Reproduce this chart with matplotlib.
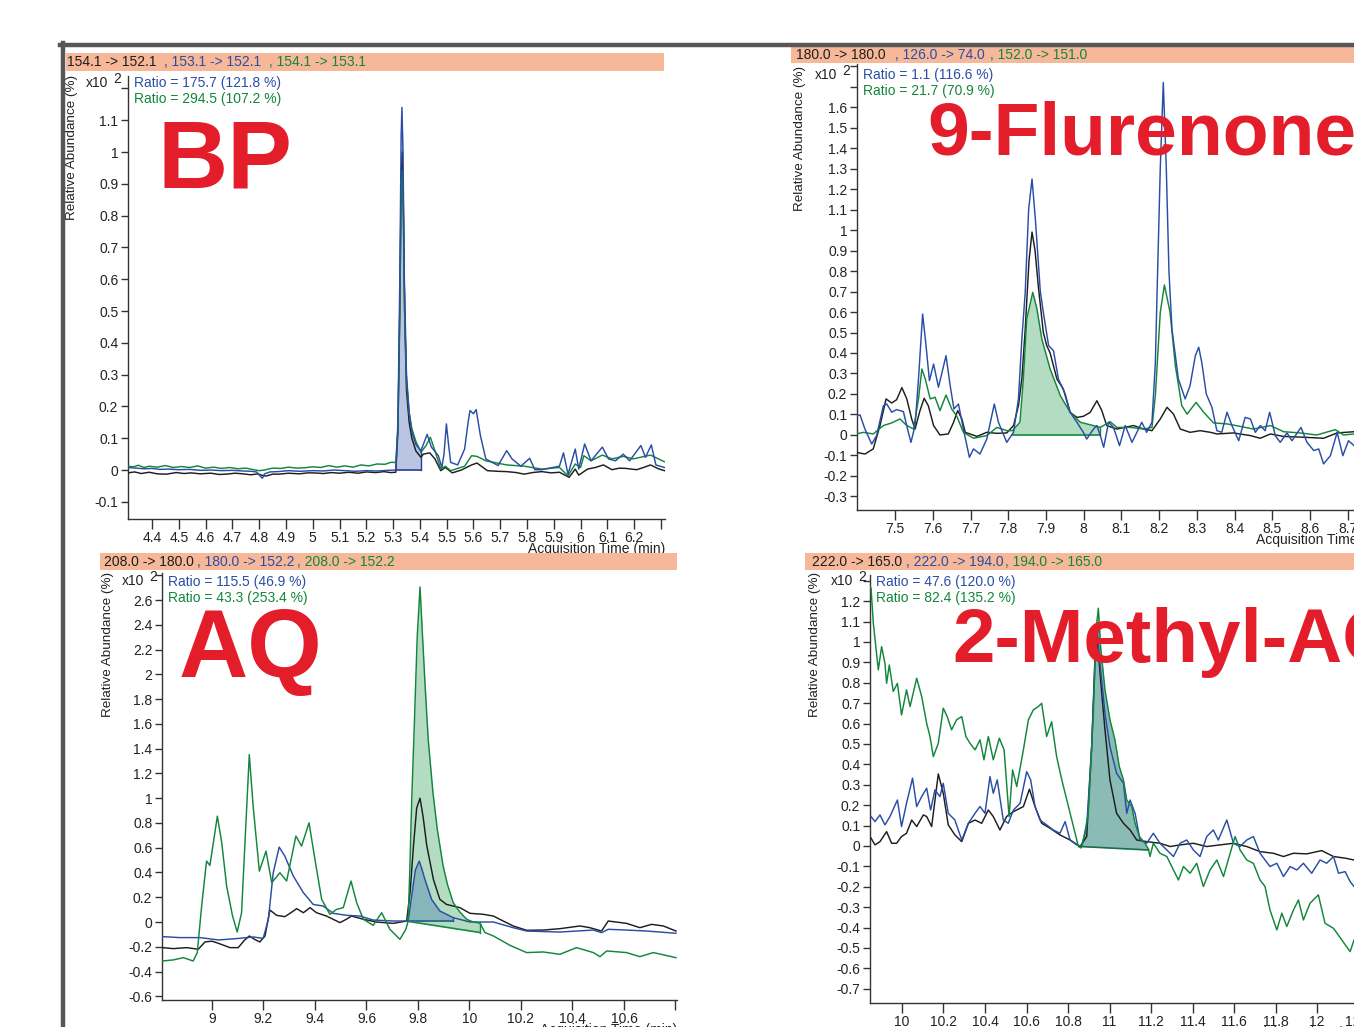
import matplotlib
matplotlib.use('Agg')
import matplotlib.pyplot as plt
import numpy as np
from matplotlib.patches import Rectangle
from matplotlib.lines import Line2D

plt.rcParams['font.family'] = ['Liberation Sans', 'DejaVu Sans']
plt.rcParams['mathtext.default'] = 'regular'

# ---------------- DATA ----------------
# Panel 1 : BP
p1_header = ["154.1 -> 152.1", ", 153.1 -> 152.1", ", 154.1 -> 153.1"]
p1_ratios = ["Ratio = 175.7 (121.8 %)", "Ratio = 294.5 (107.2 %)"]
p1_black = [(4.310, -0.009), (4.335, -0.006), (4.36, -0.011), (4.389, -0.007), (4.42, -0.012), (4.454, -0.013),
            (4.49, -0.008), (4.52, -0.011), (4.546, -0.009), (4.58, -0.012), (4.62, -0.010), (4.65, -0.014),
            (4.677, -0.013), (4.71, -0.010), (4.74, -0.012), (4.77, -0.015), (4.795, -0.012), (4.808, -0.016),
            (4.825, -0.019), (4.85, -0.013), (4.873, -0.013), (4.91, -0.010), (4.95, -0.012), (4.98, -0.009),
            (5.004, -0.009), (5.04, -0.011), (5.07, -0.008), (5.10, -0.010), (5.135, -0.007), (5.17, -0.010),
            (5.20, -0.006), (5.235, -0.008), (5.266, -0.005), (5.29, -0.008), (5.31, -0.007), (5.318, 0.12),
            (5.325, 0.5), (5.330, 0.9), (5.334, 1.0), (5.338, 0.85), (5.343, 0.5), (5.35, 0.25), (5.36, 0.15),
            (5.37, 0.10), (5.385, 0.06), (5.404, 0.04), (5.413, 0.05), (5.437, 0.054), (5.456, 0.035),
            (5.478, -0.002), (5.495, 0.008), (5.521, -0.009), (5.555, 0.0), (5.593, 0.016), (5.613, 0.022),
            (5.652, -0.002), (5.69, -0.004), (5.724, -0.005), (5.76, -0.008), (5.790, -0.013), (5.82, -0.008),
            (5.855, -0.005), (5.89, -0.009), (5.921, -0.007), (5.957, -0.023), (5.98, 0.003), (5.993, -0.016),
            (6.026, 0.003), (6.055, 0.008), (6.085, 0.016), (6.117, 0.001), (6.145, 0.006), (6.170, 0.005),
            (6.209, 0.001), (6.235, 0.008), (6.261, 0.016), (6.29, 0.004), (6.313, -0.002)]
p1_blue = [(4.310, 0.008), (4.34, 0.006), (4.37, 0.004), (4.40, 0.005), (4.43, 0.002), (4.46, 0.003),
           (4.50, 0.001), (4.54, 0.002), (4.58, -0.001), (4.62, 0.0), (4.66, -0.002), (4.70, -0.001),
           (4.74, -0.003), (4.77, -0.004), (4.79, -0.006), (4.805, -0.02), (4.812, -0.026), (4.82, -0.012),
           (4.84, -0.006), (4.87, -0.005), (4.91, -0.002), (4.95, -0.004), (5.0, -0.002), (5.04, -0.003),
           (5.08, 0.0), (5.12, -0.002), (5.16, -0.004), (5.20, -0.002), (5.24, -0.003), (5.28, -0.001),
           (5.31, 0.0), (5.318, 0.15), (5.325, 0.6), (5.330, 1.05), (5.333, 1.14), (5.337, 1.0), (5.342, 0.6),
           (5.35, 0.3), (5.36, 0.18), (5.37, 0.12), (5.385, 0.08), (5.404, 0.061), (5.427, 0.112),
           (5.443, 0.072), (5.469, 0.045), (5.482, 0.008), (5.490, 0.05), (5.499, 0.145), (5.507, 0.08),
           (5.515, 0.024), (5.541, 0.016), (5.567, 0.066), (5.58, 0.15), (5.587, 0.187), (5.600, 0.177),
           (5.610, 0.19), (5.626, 0.108), (5.646, 0.035), (5.692, 0.014), (5.724, 0.061), (5.744, 0.035),
           (5.777, 0.012), (5.810, 0.037), (5.829, 0.001), (5.855, 0.001), (5.921, 0.012), (5.936, 0.054),
           (5.953, -0.013), (5.98, 0.066), (5.993, 0.003), (6.015, 0.082), (6.039, 0.029), (6.081, 0.072),
           (6.104, 0.035), (6.130, 0.029), (6.159, 0.05), (6.183, 0.029), (6.225, 0.077), (6.242, 0.04),
           (6.264, 0.079), (6.281, 0.016), (6.313, 0.008)]
p1_green = [(4.310, 0.012), (4.33, 0.010), (4.35, 0.015), (4.37, 0.008), (4.39, 0.012), (4.42, 0.009),
            (4.45, 0.014), (4.48, 0.008), (4.51, 0.011), (4.54, 0.008), (4.57, 0.013), (4.60, 0.006),
            (4.63, 0.009), (4.66, 0.005), (4.69, 0.008), (4.72, 0.004), (4.75, 0.006), (4.78, 0.001),
            (4.80, -0.002), (4.82, 0.0), (4.85, 0.006), (4.88, 0.005), (4.91, 0.009), (4.94, 0.006),
            (4.97, 0.007), (5.0, 0.010), (5.03, 0.008), (5.06, 0.014), (5.09, 0.009), (5.12, 0.013),
            (5.15, 0.009), (5.18, 0.016), (5.21, 0.013), (5.24, 0.019), (5.27, 0.018), (5.29, 0.024),
            (5.31, 0.024), (5.318, 0.13), (5.325, 0.5), (5.330, 0.85), (5.334, 0.94), (5.338, 0.82),
            (5.343, 0.5), (5.35, 0.28), (5.36, 0.18), (5.37, 0.13), (5.385, 0.09), (5.404, 0.056),
            (5.423, 0.077), (5.439, 0.103), (5.456, 0.061), (5.478, 0.003), (5.495, 0.012), (5.515, -0.002),
            (5.567, 0.012), (5.593, 0.045), (5.613, 0.043), (5.646, 0.029), (5.724, 0.016), (5.790, 0.012),
            (5.855, 0.003), (5.921, 0.008), (5.953, -0.018), (5.98, 0.019), (6.0, 0.008), (6.012, 0.045),
            (6.039, 0.029), (6.081, 0.047), (6.117, 0.035), (6.159, 0.043), (6.196, 0.035), (6.261, 0.047),
            (6.313, 0.026)]

# Panel 2 : 9-Flurenone
p2_header = ["180.0 -> 180.0", ", 126.0 -> 74.0", ", 152.0 -> 151.0"]
p2_ratios = ["Ratio = 1.1 (116.6 %)", "Ratio = 21.7 (70.9 %)"]
p2_black = [(7.398, -0.085), (7.420, -0.093), (7.442, -0.068), (7.460, 0.046), (7.476, 0.176), (7.491, 0.156),
            (7.504, 0.172), (7.518, 0.231), (7.531, 0.176), (7.544, 0.078), (7.553, 0.029), (7.566, 0.119),
            (7.577, 0.179), (7.588, 0.143), (7.602, 0.046), (7.619, 0.0), (7.641, 0.005), (7.655, 0.062),
            (7.666, 0.119), (7.677, 0.078), (7.686, 0.013), (7.717, -0.007), (7.743, 0.013), (7.770, 0.008),
            (7.796, 0.01), (7.814, 0.046), (7.827, 0.143), (7.836, 0.273), (7.845, 0.517), (7.855, 0.85),
            (7.863, 0.99), (7.871, 0.9), (7.880, 0.72), (7.893, 0.5), (7.902, 0.436), (7.911, 0.4),
            (7.929, 0.273), (7.946, 0.224), (7.964, 0.11), (7.982, 0.086), (7.999, 0.091), (8.017, 0.11),
            (8.035, 0.167), (8.048, 0.119), (8.061, 0.046), (8.088, 0.029), (8.132, 0.046), (8.159, 0.029),
            (8.181, 0.021), (8.203, 0.078), (8.221, 0.135), (8.238, 0.102), (8.256, 0.029), (8.282, 0.013),
            (8.309, 0.021), (8.336, 0.013), (8.353, 0.005), (8.397, 0.01), (8.442, -0.003), (8.468, -0.016),
            (8.495, 0.005), (8.530, -0.007), (8.583, -0.011), (8.636, -0.016), (8.672, 0.01), (8.717, 0.016)]
p2_blue = [(7.398, 0.094), (7.407, 0.098), (7.420, 0.029), (7.438, -0.044), (7.451, -0.003), (7.469, 0.143),
           (7.478, 0.151), (7.491, 0.111), (7.504, 0.124), (7.522, 0.114), (7.533, 0.029), (7.542, -0.036),
           (7.553, 0.046), (7.562, 0.273), (7.573, 0.59), (7.582, 0.436), (7.591, 0.265), (7.602, 0.346),
           (7.615, 0.233), (7.635, 0.387), (7.646, 0.241), (7.656, 0.127), (7.668, 0.151), (7.681, 0.029),
           (7.697, -0.109), (7.708, -0.068), (7.725, -0.093), (7.743, -0.02), (7.763, 0.151), (7.774, 0.062),
           (7.796, -0.036), (7.814, 0.013), (7.827, 0.176), (7.836, 0.468), (7.845, 0.696), (7.854, 1.1),
           (7.863, 1.249), (7.872, 1.05), (7.885, 0.7), (7.893, 0.598), (7.907, 0.436), (7.920, 0.411),
           (7.933, 0.273), (7.951, 0.2), (7.964, 0.111), (7.982, 0.062), (7.999, 0.013), (8.008, -0.02),
           (8.026, 0.029), (8.035, 0.046), (8.044, -0.003), (8.053, -0.06), (8.066, 0.062), (8.079, 0.037),
           (8.095, -0.052), (8.110, 0.046), (8.128, -0.036), (8.141, 0.013), (8.154, 0.062), (8.167, 0.013),
           (8.181, 0.062), (8.190, 0.354), (8.196, 0.8), (8.203, 1.3), (8.211, 1.72), (8.219, 1.3),
           (8.226, 0.8), (8.234, 0.517), (8.251, 0.273), (8.269, 0.176), (8.282, 0.241), (8.296, 0.387),
           (8.305, 0.428), (8.313, 0.354), (8.325, 0.2), (8.340, 0.135), (8.353, 0.021), (8.366, 0.013),
           (8.380, 0.111), (8.393, 0.046), (8.411, -0.028), (8.428, 0.086), (8.442, 0.078), (8.455, 0.013),
           (8.468, 0.046), (8.481, 0.021), (8.493, 0.111), (8.508, -0.003), (8.521, -0.036), (8.539, 0.01),
           (8.552, -0.028), (8.576, 0.037), (8.592, -0.036), (8.610, -0.076), (8.623, -0.068), (8.636, -0.141),
           (8.654, -0.101), (8.672, 0.013), (8.687, -0.101), (8.702, -0.028), (8.717, -0.052)]
p2_green = [(7.398, 0.005), (7.416, 0.013), (7.442, 0.005), (7.469, 0.046), (7.491, 0.059), (7.513, 0.078),
            (7.531, 0.046), (7.549, 0.029), (7.562, 0.176), (7.571, 0.322), (7.580, 0.273), (7.593, 0.176),
            (7.606, 0.184), (7.619, 0.119), (7.635, 0.195), (7.650, 0.127), (7.663, 0.094), (7.681, 0.013),
            (7.708, -0.016), (7.743, -0.003), (7.770, 0.037), (7.796, 0.021), (7.811, 0.021), (7.831, 0.062),
            (7.840, 0.273), (7.849, 0.566), (7.865, 0.696), (7.876, 0.615), (7.889, 0.468), (7.911, 0.322),
            (7.938, 0.192), (7.964, 0.111), (7.991, 0.062), (8.017, 0.05), (8.044, 0.037), (8.070, 0.065),
            (8.088, 0.037), (8.123, 0.037), (8.159, 0.029), (8.181, 0.037), (8.190, 0.192), (8.203, 0.598),
            (8.214, 0.732), (8.229, 0.598), (8.243, 0.338), (8.260, 0.143), (8.274, 0.102), (8.298, 0.159),
            (8.318, 0.111), (8.344, 0.059), (8.380, 0.054), (8.415, 0.042), (8.450, 0.029), (8.495, 0.046),
            (8.530, 0.016), (8.574, 0.01), (8.618, 0.0), (8.667, 0.026), (8.689, 0.0), (8.717, 0.005)]

# Panel 3 : AQ
p3_header = ["208.0 -> 180.0", ", 180.0 -> 152.2", ", 208.0 -> 152.2"]
p3_ratios = ["Ratio = 115.5 (46.9 %)", "Ratio = 43.3 (253.4 %)"]
p3_black = [(8.808, -0.207), (8.850, -0.215), (8.902, -0.207), (8.947, -0.22), (8.973, -0.161), (9.0, -0.155),
            (9.025, -0.172), (9.070, -0.207), (9.102, -0.207), (9.125, -0.15), (9.145, -0.113), (9.165, -0.14),
            (9.186, -0.161), (9.206, -0.113), (9.225, 0.097), (9.251, 0.054), (9.283, 0.043), (9.310, 0.08),
            (9.329, 0.108), (9.355, 0.075), (9.381, 0.116), (9.406, 0.075), (9.445, 0.048), (9.497, -0.005),
            (9.520, 0.02), (9.542, 0.048), (9.588, 0.022), (9.639, 0.0), (9.704, -0.011), (9.756, 0.008),
            (9.770, 0.25), (9.782, 0.6), (9.795, 0.92), (9.808, 1.0), (9.820, 0.85), (9.834, 0.62),
            (9.860, 0.344), (9.885, 0.183), (9.911, 0.142), (9.937, 0.129), (9.963, 0.116), (10.002, 0.07),
            (10.054, 0.062), (10.093, 0.048), (10.131, 0.008), (10.170, -0.032), (10.222, -0.067),
            (10.287, -0.065), (10.351, -0.054), (10.429, -0.032), (10.468, -0.046), (10.513, -0.073),
            (10.539, 0.008), (10.610, -0.011), (10.662, -0.046), (10.707, -0.019), (10.753, -0.032),
            (10.802, -0.073)]
p3_blue = [(8.808, -0.118), (8.876, -0.126), (8.953, -0.126), (9.025, -0.145), (9.096, -0.134), (9.160, -0.121),
           (9.199, -0.132), (9.219, 0.022), (9.238, 0.398), (9.261, 0.605), (9.283, 0.532), (9.316, 0.371),
           (9.355, 0.237), (9.393, 0.142), (9.432, 0.129), (9.471, 0.07), (9.523, 0.054), (9.575, 0.048),
           (9.626, 0.016), (9.704, 0.008), (9.762, 0.008), (9.775, 0.2), (9.790, 0.42), (9.805, 0.492),
           (9.815, 0.43), (9.827, 0.344), (9.853, 0.183), (9.885, 0.089), (9.937, 0.035), (10.002, 0.0),
           (10.093, 0.0), (10.170, -0.046), (10.222, -0.073), (10.351, -0.081), (10.481, -0.065),
           (10.513, -0.086), (10.539, -0.059), (10.610, -0.065), (10.688, -0.073), (10.802, -0.091)]
p3_green = [(8.808, -0.315), (8.850, -0.306), (8.889, -0.288), (8.927, -0.315), (8.943, -0.247), (8.960, 0.129),
            (8.979, 0.492), (8.992, 0.457), (9.021, 0.855), (9.038, 0.64), (9.057, 0.29), (9.080, 0.048),
            (9.098, -0.081), (9.115, 0.075), (9.132, 0.801), (9.145, 1.352), (9.160, 0.935), (9.184, 0.411),
            (9.210, 0.573), (9.232, 0.317), (9.264, 0.398), (9.290, 0.331), (9.326, 0.694), (9.348, 0.613),
            (9.377, 0.801), (9.400, 0.505), (9.426, 0.183), (9.458, 0.062), (9.484, 0.102), (9.510, 0.116),
            (9.540, 0.331), (9.562, 0.156), (9.588, 0.022), (9.626, -0.027), (9.659, 0.075), (9.691, -0.059),
            (9.730, -0.14), (9.753, -0.059), (9.762, 0.008), (9.768, 0.4), (9.776, 1.0), (9.786, 1.6),
            (9.797, 2.3), (9.808, 2.706), (9.818, 2.3), (9.828, 1.9), (9.840, 1.47), (9.858, 1.05),
            (9.875, 0.75), (9.898, 0.45), (9.915, 0.3), (9.937, 0.156), (9.963, 0.08), (9.989, 0.022),
            (10.015, 0.0), (10.041, -0.01), (10.060, -0.085), (10.093, -0.113), (10.157, -0.188),
            (10.222, -0.247), (10.287, -0.242), (10.351, -0.261), (10.416, -0.207), (10.481, -0.247),
            (10.507, -0.28), (10.533, -0.234), (10.610, -0.247), (10.662, -0.28), (10.714, -0.247),
            (10.802, -0.288)]

# Panel 4 : 2-Methyl-AQ
p4_header = ["222.0 -> 165.0", ", 222.0 -> 194.0", ", 194.0 -> 165.0"]
p4_ratios = ["Ratio = 47.6 (120.0 %)", "Ratio = 82.4 (135.2 %)"]
p4_black = [(9.851, 0.038), (9.870, 0.005), (9.894, 0.021), (9.926, 0.07), (9.950, 0.013), (9.974, 0.013),
            (9.998, 0.046), (10.022, 0.062), (10.047, 0.127), (10.071, 0.095), (10.103, 0.152), (10.119, 0.144),
            (10.143, 0.095), (10.175, 0.353), (10.199, 0.258), (10.223, 0.103), (10.255, 0.054), (10.288, 0.021),
            (10.320, 0.111), (10.352, 0.127), (10.384, 0.111), (10.416, 0.176), (10.440, 0.144), (10.472, 0.078),
            (10.504, 0.144), (10.537, 0.168), (10.585, 0.193), (10.614, 0.278), (10.641, 0.193), (10.673, 0.111),
            (10.713, 0.087), (10.761, 0.054), (10.810, 0.029), (10.858, -0.003), (10.890, 0.046), (10.914, 0.487),
            (10.930, 0.928), (10.941, 1.01), (10.957, 0.814), (10.978, 0.569), (11.002, 0.324), (11.034, 0.16),
            (11.067, 0.111), (11.099, 0.078), (11.131, 0.029), (11.179, 0.021), (11.243, 0.013), (11.292, -0.003),
            (11.340, 0.005), (11.404, 0.013), (11.468, -0.003), (11.532, 0.005), (11.597, 0.013), (11.661, -0.003),
            (11.725, -0.028), (11.789, -0.036), (11.838, -0.052), (11.886, -0.036), (11.950, -0.039),
            (12.022, -0.023), (12.079, -0.052), (12.135, -0.06), (12.178, -0.069)]
p4_blue = [(9.851, 0.144), (9.870, 0.119), (9.894, 0.152), (9.918, 0.103), (9.942, 0.144), (9.978, 0.225),
           (9.998, 0.095), (10.022, 0.209), (10.051, 0.332), (10.071, 0.193), (10.095, 0.242), (10.119, 0.283),
           (10.138, 0.176), (10.159, 0.275), (10.183, 0.242), (10.199, 0.307), (10.223, 0.16), (10.255, 0.127),
           (10.288, 0.029), (10.320, 0.111), (10.352, 0.16), (10.376, 0.193), (10.400, 0.16), (10.424, 0.34),
           (10.440, 0.258), (10.459, 0.324), (10.488, 0.127), (10.512, 0.111), (10.537, 0.176), (10.569, 0.209),
           (10.601, 0.364), (10.620, 0.324), (10.641, 0.193), (10.665, 0.127), (10.697, 0.103), (10.729, 0.078),
           (10.761, 0.062), (10.786, 0.119), (10.810, 0.029), (10.842, 0.005), (10.866, -0.003), (10.890, 0.095),
           (10.914, 0.487), (10.930, 0.895), (10.941, 1.059), (10.954, 0.895), (10.978, 0.65), (11.002, 0.487),
           (11.034, 0.356), (11.067, 0.307), (11.083, 0.16), (11.099, 0.225), (11.123, 0.16), (11.147, 0.029),
           (11.179, 0.013), (11.211, 0.062), (11.243, 0.013), (11.276, -0.02), (11.308, -0.052), (11.340, 0.013),
           (11.372, 0.029), (11.404, -0.02), (11.436, -0.052), (11.468, 0.046), (11.500, 0.078), (11.524, 0.029),
           (11.565, 0.127), (11.597, 0.013), (11.629, -0.003), (11.661, 0.029), (11.693, 0.046), (11.725, -0.036),
           (11.773, -0.101), (11.806, -0.085), (11.838, -0.15), (11.870, -0.101), (11.902, -0.118),
           (11.934, -0.085), (11.974, -0.134), (12.014, -0.069), (12.046, -0.085), (12.079, -0.052),
           (12.103, -0.134), (12.135, -0.126), (12.159, -0.175), (12.178, -0.199)]
p4_green = [(9.848, 1.27), (9.851, 1.263), (9.862, 1.092), (9.886, 0.863), (9.902, 0.977), (9.918, 0.895),
            (9.926, 0.797), (9.939, 0.887), (9.958, 0.757), (9.978, 0.797), (9.998, 0.642), (10.022, 0.765),
            (10.039, 0.683), (10.071, 0.822), (10.095, 0.732), (10.119, 0.601), (10.135, 0.536), (10.151, 0.438),
            (10.175, 0.503), (10.199, 0.675), (10.218, 0.634), (10.239, 0.569), (10.263, 0.618), (10.288, 0.634),
            (10.308, 0.536), (10.328, 0.503), (10.352, 0.471), (10.376, 0.52), (10.395, 0.422), (10.416, 0.536),
            (10.440, 0.422), (10.469, 0.528), (10.492, 0.471), (10.516, 0.144), (10.533, 0.373), (10.553, 0.291),
            (10.585, 0.471), (10.609, 0.618), (10.633, 0.667), (10.657, 0.683), (10.673, 0.699), (10.697, 0.536),
            (10.721, 0.609), (10.745, 0.438), (10.770, 0.324), (10.802, 0.193), (10.826, 0.095), (10.850, -0.003),
            (10.863, -0.01), (10.877, 0.046), (10.898, 0.16), (10.922, 0.65), (10.935, 1.059), (10.946, 1.165),
            (10.957, 0.977), (10.978, 0.765), (11.002, 0.618), (11.026, 0.52), (11.047, 0.389), (11.067, 0.324),
            (11.083, 0.225), (11.107, 0.193), (11.123, 0.111), (11.144, 0.046), (11.171, 0.013), (11.187, -0.015),
            (11.195, -0.052), (11.211, 0.013), (11.243, -0.036), (11.276, -0.052), (11.308, -0.118),
            (11.332, -0.167), (11.356, -0.101), (11.388, -0.134), (11.420, -0.085), (11.452, -0.199),
            (11.484, -0.118), (11.517, -0.069), (11.549, -0.15), (11.581, -0.036), (11.605, 0.046),
            (11.629, -0.02), (11.661, -0.069), (11.693, -0.085), (11.725, -0.167), (11.749, -0.199),
            (11.773, -0.314), (11.806, -0.412), (11.830, -0.33), (11.854, -0.395), (11.886, -0.314),
            (11.910, -0.265), (11.934, -0.363), (11.966, -0.281), (12.006, -0.24), (12.038, -0.379),
            (12.079, -0.404), (12.119, -0.461), (12.159, -0.518), (12.178, -0.461)]

big_labels = ["BP", "9-Flurenone", "AQ", "2-Methyl-AQ"]

# ---------------- STYLE ----------------
W, H = 1354, 1027
C_BLACK = '#1e1e1e'
C_BLUE = '#2a4ea6'
C_GREEN = '#12863c'
C_RED = '#e31d2a'
C_HEAD = '#f6b899'

fig = plt.figure(figsize=(W / 100, H / 100), dpi=100)
fig.patch.set_facecolor('white')


def fx(px):
    return px / W


def fy(py):
    return 1 - py / H


def fmt(v):
    s = f'{v:.1f}'
    if s.endswith('.0'):
        s = s[:-2]
    if s == '-0':
        s = '0'
    return s


def arr(pairs):
    a = np.array(pairs, dtype=float)
    return a[:, 0], a[:, 1]


def make_panel(l, r, t, b, xlim, ylim, yt, yblank, xt, xblank):
    ax = fig.add_axes([fx(l), fy(b), (r - l) / W, (b - t) / H])
    ax.set_xlim(*xlim)
    ax.set_ylim(*ylim)
    ax.set_facecolor('none')
    for s in ('top', 'right'):
        ax.spines[s].set_visible(False)
    for s in ('left', 'bottom'):
        ax.spines[s].set_color('#333333')
        ax.spines[s].set_linewidth(1.0)
    ax.set_yticks(yt)
    ax.set_yticklabels(['' if any(abs(v - q) < 1e-6 for q in yblank) else fmt(v) for v in yt])
    ax.set_xticks(xt)
    ax.set_xticklabels(['' if any(abs(v - q) < 1e-6 for q in xblank) else fmt(v) for v in xt])
    ax.tick_params(axis='y', direction='out', length=5, width=1, color='#333333',
                   labelsize=10, pad=2, labelcolor='#222222')
    ax.tick_params(axis='x', direction='out', length=7, width=1, color='#333333',
                   labelsize=10, pad=1.5, labelcolor='#222222')
    ax.annotate('Acquisition Time (min)', xy=(1, 0), xycoords='axes fraction', xytext=(0, -30),
                textcoords='offset pixels', ha='right', va='center', fontsize=10, color='#222222',
                annotation_clip=False)
    return ax


def shade(ax, t, v, x0, x1, b0, b1, face, edge, z=1):
    m = (t >= x0 - 1e-9) & (t <= x1 + 1e-9)
    xs, ys = t[m], v[m]
    base = b0 + (b1 - b0) * (xs - x0) / (x1 - x0)
    ax.fill_between(xs, ys, base, color=face, lw=0, zorder=z)
    ax.plot([x0, x1], [b0, b1], color=edge, lw=1.2, zorder=z + 0.5)
    ax.plot([x1, x1], [b1, ys[-1]], color=edge, lw=1.0, zorder=z + 0.5)


def draw_traces(ax, black, blue, green, order=('black', 'blue', 'green')):
    d = {'black': (black, C_BLACK), 'blue': (blue, C_BLUE), 'green': (green, C_GREEN)}
    for k in order:
        t, v = arr(d[k][0])
        ax.plot(t, v, color=d[k][1], lw=1.05, zorder=3, solid_joinstyle='round')


def header(x0, x1, y0, y1, parts, xs):
    fig.patches.append(Rectangle((fx(x0), fy(y1)), (x1 - x0) / W, (y1 - y0) / H,
                                 transform=fig.transFigure, facecolor=C_HEAD, edgecolor='none', zorder=5))
    for txt, px, c in zip(parts, xs, (C_BLACK, C_BLUE, C_GREEN)):
        fig.text(fx(px), fy((y0 + y1) / 2 + 0.5), txt, color=c, fontsize=10, ha='left', va='center', zorder=6)


def annot(ylab_x, ylab_top, x10_left, x10_y, ratio_x, ratio_y, ratios):
    fig.text(fx(ylab_x), fy(ylab_top), 'Relative Abundance (%)', rotation=90, ha='center', va='top',
             fontsize=9.7, color='#222222')
    fig.text(fx(x10_left), fy(x10_y), 'x10', ha='left', va='center', fontsize=10, color='#222222')
    fig.text(fx(x10_left + 27), fy(x10_y - 4), '2', ha='left', va='center', fontsize=10, color='#222222')
    fig.text(fx(ratio_x), fy(ratio_y), ratios[0], color=C_BLUE, fontsize=10, ha='left', va='center')
    fig.text(fx(ratio_x), fy(ratio_y + 16), ratios[1], color=C_GREEN, fontsize=10, ha='left', va='center')


# ---------------- PANEL 1 ----------------
ax1 = make_panel(128, 665, 76, 519, (4.3104, 6.315), (-0.154, 1.239),
                 np.round(np.arange(-0.1, 1.21, 0.1), 2), [1.2], np.round(np.arange(4.4, 6.31, 0.1), 2), [6.3])
t, v = arr(p1_blue)
shade(ax1, t, v, 5.31, 5.404, 0.0, 0.0, '#b9c5e2', '#26409a')
draw_traces(ax1, p1_black, p1_blue, p1_green, order=('black', 'green', 'blue'))
header(66, 664, 53, 71, p1_header, [67, 164, 269])
annot(72, 75, 86, 83, 134, 83, p1_ratios)
fig.text(fx(157), fy(188), big_labels[0], color=C_RED, fontsize=70, fontweight='bold', ha='left', va='baseline')

# ---------------- PANEL 2 ----------------
ax2 = make_panel(857, 1393, 64, 510, (7.399, 8.82), (-0.366, 1.81),
                 np.round(np.arange(-0.3, 1.81, 0.1), 2), [1.7, 1.8], np.round(np.arange(7.5, 8.81, 0.1), 2), [8.8])
t, v = arr(p2_green)
shade(ax2, t, v, 7.811, 8.044, 0.0, 0.0, '#b4dcc3', '#178a44')
draw_traces(ax2, p2_black, p2_blue, p2_green, order=('black', 'green', 'blue'))
header(791, 1354, 46, 63, p2_header, [796, 895, 990])
annot(800, 66, 815, 75, 863, 75, p2_ratios)
fig.text(fx(927), fy(155), big_labels[1], color=C_RED, fontsize=54, fontweight='bold', ha='left', va='baseline')

# ---------------- PANEL 3 ----------------
ax3 = make_panel(162, 677, 573, 1000, (8.806, 10.806), (-0.63, 2.819),
                 np.round(np.arange(-0.6, 2.81, 0.2), 2), [2.8], np.round(np.arange(9.0, 10.81, 0.2), 2), [10.8])
t, v = arr(p3_green)
shade(ax3, t, v, 9.762, 10.041, 0.005, -0.085, '#b4dcc3', '#178a44')
t, v = arr(p3_blue)
shade(ax3, t, v, 9.762, 9.937, 0.005, 0.005, '#86b6bb', '#2a5c8a', z=1.6)
draw_traces(ax3, p3_black, p3_blue, p3_green, order=('black', 'blue', 'green'))
header(100, 677, 553, 570, p3_header, [104, 197, 297])
annot(108, 572, 122, 581, 168, 582, p3_ratios)
fig.text(fx(179), fy(677), big_labels[2], color=C_RED, fontsize=69, fontweight='bold', ha='left', va='baseline')

# ---------------- PANEL 4 ----------------
ax4 = make_panel(870, 1369, 575, 1003, (9.846, 12.25), (-0.77, 1.328),
                 np.round(np.arange(-0.7, 1.31, 0.1), 2), [1.3], np.round(np.arange(10.0, 12.21, 0.2), 2), [])
t, v = arr(p4_green)
shade(ax4, t, v, 10.863, 11.187, -0.003, -0.02, '#8bbbb5', '#17704a')
draw_traces(ax4, p4_black, p4_blue, p4_green, order=('black', 'blue', 'green'))
header(805, 1354, 553, 570, p4_header, [812, 906, 1005])
annot(815, 572, 831, 581, 876, 582, p4_ratios)
fig.text(fx(952), fy(662), big_labels[3], color=C_RED, fontsize=55, fontweight='bold', ha='left', va='baseline')

# ---------------- FRAME ----------------
fig.lines.append(Line2D([fx(60), fx(1354)], [fy(44.5), fy(44.5)], transform=fig.transFigure,
                        color='#575757', lw=3.2, zorder=10))
fig.lines.append(Line2D([fx(62.5), fx(62.5)], [fy(43), fy(1027)], transform=fig.transFigure,
                        color='#575757', lw=3.2, zorder=10))

fig.savefig('out.png', dpi=100, facecolor='white')
